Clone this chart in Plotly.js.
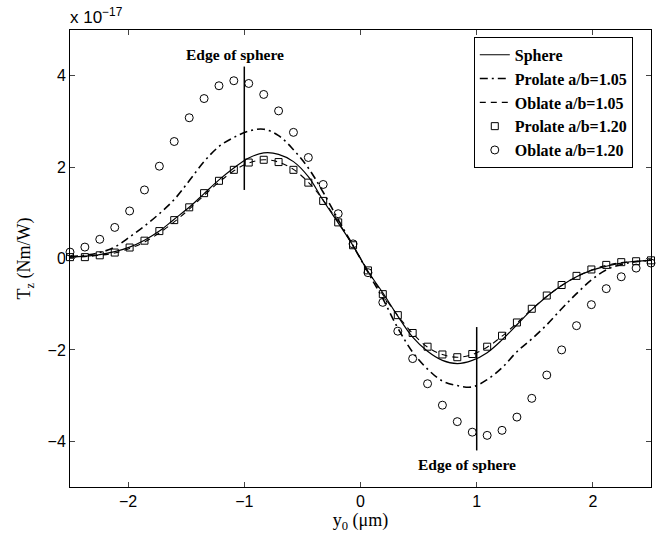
<!DOCTYPE html>
<html>
<head>
<meta charset="utf-8">
<script src="https://cdn.plot.ly/plotly-3.0.1.min.js"></script>
<style>html,body{margin:0;padding:0;background:#fff;}#chart{width:668px;height:537px;}</style>
</head>
<body>
<div id="chart"></div>
<script>
// Probe position y0 (µm)
const y0 = [-2.5, -2.372, -2.244, -2.115, -1.987, -1.859, -1.731, -1.603, -1.474, -1.346,
            -1.218, -1.090, -0.962, -0.833, -0.705, -0.577, -0.449, -0.321, -0.192, -0.064,
             0.064,  0.192,  0.321,  0.449,  0.577,  0.705,  0.833,  0.962,  1.090,  1.218,
             1.346,  1.474,  1.603,  1.731,  1.859,  1.987,  2.115,  2.244,  2.372,  2.5];

// Torque Tz (x 1e-17 Nm/W)
const sphere = [0.03, 0.05, 0.085, 0.15, 0.25, 0.40, 0.60, 0.86, 1.12, 1.42,
                1.72, 1.98, 2.20, 2.31, 2.28, 2.12, 1.79, 1.27, 0.78, 0.28,
               -0.28, -0.75, -1.26, -1.72, -2.03, -2.23, -2.30, -2.23, -2.06, -1.78,
               -1.45, -1.12, -0.83, -0.59, -0.40, -0.26, -0.17, -0.10, -0.06, -0.04];

const prolate105 = [0.04, 0.07, 0.13, 0.25, 0.47, 0.71, 0.98, 1.29, 1.70, 2.12,
                    2.45, 2.65, 2.79, 2.83, 2.69, 2.38, 1.98, 1.45, 0.85, 0.28,
                   -0.30, -0.88, -1.52, -2.05, -2.42, -2.68, -2.78, -2.81, -2.65, -2.39,
                   -2.04, -1.76, -1.45, -1.10, -0.77, -0.47, -0.25, -0.13, -0.07, -0.04];

const oblate105 = [0.03, 0.04, 0.07, 0.12, 0.22, 0.36, 0.56, 0.80, 1.08, 1.38,
                   1.67, 1.92, 2.09, 2.16, 2.11, 1.95, 1.67, 1.28, 0.80, 0.28,
                  -0.27, -0.79, -1.25, -1.64, -1.94, -2.10, -2.16, -2.10, -1.94, -1.70,
                  -1.41, -1.11, -0.83, -0.59, -0.40, -0.25, -0.15, -0.09, -0.06, -0.04];

const prolate120 = [0.03, 0.03, 0.07, 0.13, 0.24, 0.39, 0.60, 0.84, 1.12, 1.43,
                    1.70, 1.94, 2.10, 2.16, 2.11, 1.94, 1.66, 1.26, 0.79, 0.29,
                   -0.26, -0.78, -1.24, -1.63, -1.93, -2.10, -2.16, -2.09, -1.93, -1.69,
                   -1.40, -1.10, -0.81, -0.58, -0.38, -0.24, -0.14, -0.08, -0.06, -0.04];

const oblate120 = [0.14, 0.25, 0.42, 0.68, 1.04, 1.50, 2.02, 2.56, 3.08, 3.50,
                   3.78, 3.89, 3.83, 3.59, 3.23, 2.76, 2.21, 1.62, 0.98, 0.32,
                  -0.31, -0.96, -1.59, -2.19, -2.74, -3.21, -3.57, -3.80, -3.87, -3.76,
                  -3.47, -3.06, -2.55, -2.00, -1.47, -1.01, -0.66, -0.40, -0.21, -0.10];

// Edge-of-sphere markers
const edgeLeftX = [-1, -1];
const edgeLeftY = [1.5, 4.2];
const edgeRightX = [1, 1];
const edgeRightY = [-1.5, -4.2];

const seriesNames = ["Sphere", "Prolate a/b=1.05", "Oblate a/b=1.05", "Prolate a/b=1.20", "Oblate a/b=1.20"];
const xTicks = [-2, -1, 0, 1, 2];
const yTicks = [-4, -2, 0, 2, 4];

const serif = "Liberation Serif, Times New Roman, serif";
const sans = "Liberation Sans, Arial, sans-serif";

const traces = [
  {x: y0, y: sphere, name: seriesNames[0], mode: "lines", line: {color: "#000", width: 1.2, shape: "spline"}},
  {x: y0, y: prolate105, name: seriesNames[1], mode: "lines", line: {color: "#000", width: 1.6, dash: "8px,4px,2px,4px", shape: "spline"}},
  {x: y0, y: oblate105, name: seriesNames[2], mode: "lines", line: {color: "#000", width: 1.1, dash: "6px,5px", shape: "spline"}},
  {x: y0, y: prolate120, name: seriesNames[3], mode: "markers", cliponaxis: false,
   marker: {symbol: "square-open", size: 7, color: "#000", line: {width: 1, color: "#000"}}},
  {x: y0, y: oblate120, name: seriesNames[4], mode: "markers", cliponaxis: false,
   marker: {symbol: "circle-open", size: 8, color: "#000", line: {width: 1, color: "#000"}}},
  {x: edgeLeftX, y: edgeLeftY, mode: "lines", showlegend: false, hoverinfo: "skip", line: {color: "#000", width: 1.5}},
  {x: edgeRightX, y: edgeRightY, mode: "lines", showlegend: false, hoverinfo: "skip", line: {color: "#000", width: 1.5}}
];

const layout = {
  width: 668, height: 537,
  margin: {l: 70, r: 17, t: 30, b: 50},
  paper_bgcolor: "#fff", plot_bgcolor: "#fff",
  showlegend: true,
  font: {family: sans, size: 16, color: "#000"},
  xaxis: {
    range: [-2.5, 2.5], tickvals: xTicks, ticks: "inside", ticklen: 5, mirror: "ticks",
    showline: true, linecolor: "#000", linewidth: 1, showgrid: false, zeroline: false,
    tickfont: {family: sans, size: 16, color: "#000"},
    title: {text: "y<sub>0</sub> (μm)", font: {family: serif, size: 18, color: "#000"}, standoff: 2}
  },
  yaxis: {
    range: [-5, 5], tickvals: yTicks, ticks: "inside", ticklen: 5, mirror: "ticks",
    showline: true, linecolor: "#000", linewidth: 1, showgrid: false, zeroline: false,
    tickfont: {family: sans, size: 16, color: "#000"},
    title: {text: "T<sub>z</sub> (Nm/W)", font: {family: serif, size: 18, color: "#000"}, standoff: 12}
  },
  legend: {
    x: 0.695, y: 0.985, xanchor: "left", yanchor: "top",
    bgcolor: "#fff", bordercolor: "#000", borderwidth: 1,
    font: {family: serif, size: 16, color: "#000", weight: "bold"},
    tracegroupgap: 0
  },
  annotations: [
    {text: "x 10<sup>−17</sup>", xref: "paper", yref: "paper", x: 0, y: 1, xanchor: "left", yanchor: "bottom",
     showarrow: false, font: {family: sans, size: 17, color: "#000"}, yshift: 1, xshift: -2},
    {text: "Edge of sphere", xref: "x", yref: "y", x: -1.08, y: 4.46, showarrow: false,
     font: {family: serif, size: 15.5, color: "#000", weight: "bold"}},
    {text: "Edge of sphere", xref: "x", yref: "y", x: 0.92, y: -4.51, showarrow: false,
     font: {family: serif, size: 15.5, color: "#000", weight: "bold"}}
  ]
};

Plotly.newPlot("chart", traces, layout, {displayModeBar: false, staticPlot: true});
</script>
</body>
</html>
